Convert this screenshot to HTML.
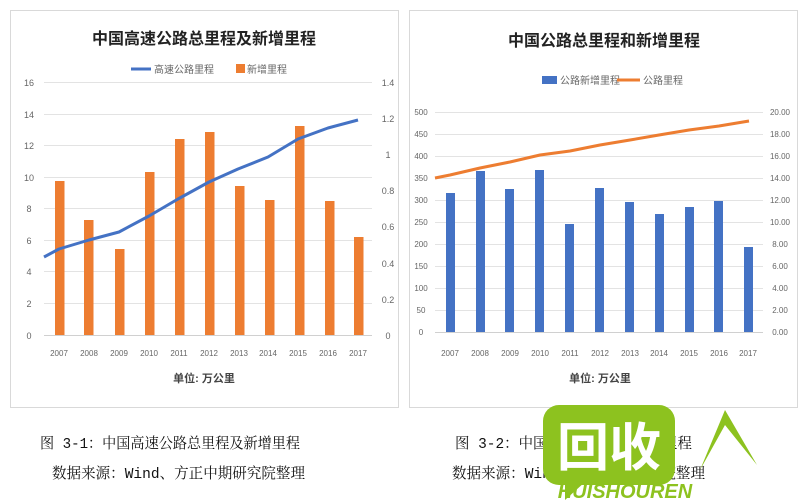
<!DOCTYPE html>
<html><head><meta charset="utf-8"><style>
body{margin:0;background:#fff;}
svg{display:block;font-family:"Liberation Sans","Noto Sans CJK SC",sans-serif;}
</style></head><body>
<svg width="800" height="500" viewBox="0 0 800 500">
<rect width="800" height="500" fill="#fff"/>
<!-- left chart -->
<rect x="10.5" y="10.5" width="388" height="397" fill="#fff" stroke="#d9d9d9"/>
<text x="204" y="44" font-size="16" font-weight="bold" text-anchor="middle" fill="#222">中国高速公路总里程及新增里程</text>
<line x1="131" y1="69" x2="151" y2="69" stroke="#4472c4" stroke-width="3"/>
<text x="154" y="73" font-size="10" fill="#666">高速公路里程</text>
<rect x="236" y="64" width="9" height="9" fill="#ed7d31"/>
<text x="247" y="73" font-size="10" fill="#666">新增里程</text>
<g stroke="#e3e3e3" stroke-width="1">
<line x1="44" x2="372" y1="82.5" y2="82.5"/><line x1="44" x2="372" y1="114.5" y2="114.5"/>
<line x1="44" x2="372" y1="145.5" y2="145.5"/><line x1="44" x2="372" y1="177.5" y2="177.5"/>
<line x1="44" x2="372" y1="208.5" y2="208.5"/><line x1="44" x2="372" y1="240.5" y2="240.5"/>
<line x1="44" x2="372" y1="271.5" y2="271.5"/><line x1="44" x2="372" y1="303.5" y2="303.5"/>
<line x1="44" x2="372" y1="335.5" y2="335.5" stroke="#d0d0d0"/>
</g>
<g font-size="9" fill="#666" text-anchor="middle">
<text x="29" y="86">16</text><text x="29" y="118">14</text><text x="29" y="149">12</text><text x="29" y="181">10</text>
<text x="29" y="212">8</text><text x="29" y="244">6</text><text x="29" y="275">4</text><text x="29" y="307">2</text><text x="29" y="339">0</text>
<text x="388" y="86">1.4</text><text x="388" y="122">1.2</text><text x="388" y="158">1</text><text x="388" y="194">0.8</text>
<text x="388" y="230">0.6</text><text x="388" y="267">0.4</text><text x="388" y="303">0.2</text><text x="388" y="339">0</text>
</g>
<g fill="#ed7d31">
<rect x="55" y="181" width="9.5" height="154"/><rect x="84" y="220" width="9.5" height="115"/>
<rect x="115" y="249" width="9.5" height="86"/><rect x="145" y="172" width="9.5" height="163"/>
<rect x="175" y="139" width="9.5" height="196"/><rect x="205" y="132" width="9.5" height="203"/>
<rect x="235" y="186" width="9.5" height="149"/><rect x="265" y="200" width="9.5" height="135"/>
<rect x="295" y="126" width="9.5" height="209"/><rect x="325" y="201" width="9.5" height="134"/>
<rect x="354" y="237" width="9.5" height="98"/>
</g>
<polyline fill="none" stroke="#4472c4" stroke-width="3" stroke-linejoin="round" points="44,257 59,249 89,240 119,232 149,216 178,199 209,182 238,169 268,157 298,139 328,128 358,120"/>
<g font-size="8" fill="#666" text-anchor="middle">
<text x="59" y="356">2007</text><text x="89" y="356">2008</text><text x="119" y="356">2009</text><text x="149" y="356">2010</text>
<text x="179" y="356">2011</text><text x="209" y="356">2012</text><text x="239" y="356">2013</text><text x="268" y="356">2014</text>
<text x="298" y="356">2015</text><text x="328" y="356">2016</text><text x="358" y="356">2017</text>
</g>
<text x="204" y="382" font-size="11" font-weight="bold" text-anchor="middle" fill="#444">单位: 万公里</text>

<!-- right chart -->
<rect x="409.5" y="10.5" width="388" height="397" fill="#fff" stroke="#d9d9d9"/>
<text x="604" y="46" font-size="16" font-weight="bold" text-anchor="middle" fill="#222">中国公路总里程和新增里程</text>
<rect x="542" y="76" width="15" height="8" fill="#4472c4"/>
<text x="560" y="84" font-size="10" fill="#666">公路新增里程</text>
<line x1="617" y1="80" x2="640" y2="80" stroke="#ed7d31" stroke-width="3"/>
<text x="643" y="84" font-size="10" fill="#666">公路里程</text>
<g stroke="#e3e3e3" stroke-width="1">
<line x1="435" x2="763" y1="112.5" y2="112.5"/><line x1="435" x2="763" y1="134.5" y2="134.5"/>
<line x1="435" x2="763" y1="156.5" y2="156.5"/><line x1="435" x2="763" y1="178.5" y2="178.5"/>
<line x1="435" x2="763" y1="200.5" y2="200.5"/><line x1="435" x2="763" y1="222.5" y2="222.5"/>
<line x1="435" x2="763" y1="244.5" y2="244.5"/><line x1="435" x2="763" y1="266.5" y2="266.5"/>
<line x1="435" x2="763" y1="288.5" y2="288.5"/><line x1="435" x2="763" y1="310.5" y2="310.5"/>
<line x1="435" x2="763" y1="332.5" y2="332.5" stroke="#d0d0d0"/>
</g>
<g font-size="8" fill="#666" text-anchor="middle">
<text x="421" y="115">500</text><text x="421" y="137">450</text><text x="421" y="159">400</text><text x="421" y="181">350</text>
<text x="421" y="203">300</text><text x="421" y="225">250</text><text x="421" y="247">200</text><text x="421" y="269">150</text>
<text x="421" y="291">100</text><text x="421" y="313">50</text><text x="421" y="335">0</text>
<text x="780" y="115">20.00</text><text x="780" y="137">18.00</text><text x="780" y="159">16.00</text><text x="780" y="181">14.00</text>
<text x="780" y="203">12.00</text><text x="780" y="225">10.00</text><text x="780" y="247">8.00</text><text x="780" y="269">6.00</text>
<text x="780" y="291">4.00</text><text x="780" y="313">2.00</text><text x="780" y="335">0.00</text>
</g>
<g fill="#4472c4">
<rect x="446" y="193" width="9" height="139"/><rect x="476" y="171" width="9" height="161"/>
<rect x="505" y="189" width="9" height="143"/><rect x="535" y="170" width="9" height="162"/>
<rect x="565" y="224" width="9" height="108"/><rect x="595" y="188" width="9" height="144"/>
<rect x="625" y="202" width="9" height="130"/><rect x="655" y="214" width="9" height="118"/>
<rect x="685" y="207" width="9" height="125"/><rect x="714" y="201" width="9" height="131"/>
<rect x="744" y="247" width="9" height="85"/>
</g>
<polyline fill="none" stroke="#ed7d31" stroke-width="3" stroke-linejoin="round" points="435,178 450,175 480,168 510,162 540,155 570,151 600,145 630,140 659,135 689,130 719,126 749,121"/>
<g font-size="8" fill="#666" text-anchor="middle">
<text x="450" y="356">2007</text><text x="480" y="356">2008</text><text x="510" y="356">2009</text><text x="540" y="356">2010</text>
<text x="570" y="356">2011</text><text x="600" y="356">2012</text><text x="630" y="356">2013</text><text x="659" y="356">2014</text>
<text x="689" y="356">2015</text><text x="719" y="356">2016</text><text x="748" y="356">2017</text>
</g>
<text x="600" y="382" font-size="11" font-weight="bold" text-anchor="middle" fill="#444">单位: 万公里</text>

<!-- captions -->
<g font-family="'Liberation Mono','Noto Serif CJK SC',serif" font-size="15" fill="#111">
<text x="40" y="448" textLength="260" lengthAdjust="spacingAndGlyphs">图 3-1：中国高速公路总里程及新增里程</text>
<text x="52" y="478" textLength="253" lengthAdjust="spacingAndGlyphs">数据来源：Wind、方正中期研究院整理</text>
<text x="455" y="448" textLength="237" lengthAdjust="spacingAndGlyphs">图 3-2：中国公路总里程和新增里程</text>
<text x="452" y="478" textLength="253" lengthAdjust="spacingAndGlyphs">数据来源：Wind、方正中期研究院整理</text>
</g>
<!-- watermark -->
<path d="M700,470 L725,410 L757,465 L725,425 Z" fill="#8dc21f"/>
<rect x="543" y="405" width="132" height="80" rx="16" fill="#8dc21f"/>
<path d="M565,480 L565,500 L585,482 Z" fill="#8dc21f"/>
<text x="609" y="466" font-size="52" font-weight="bold" text-anchor="middle" fill="#fff" font-family="'Noto Sans CJK SC',sans-serif">回收</text>
<text x="625" y="498" font-size="20" font-weight="bold" font-style="italic" text-anchor="middle" fill="#8dc21f">HUISHOUREN</text>
</svg>
</body></html>
